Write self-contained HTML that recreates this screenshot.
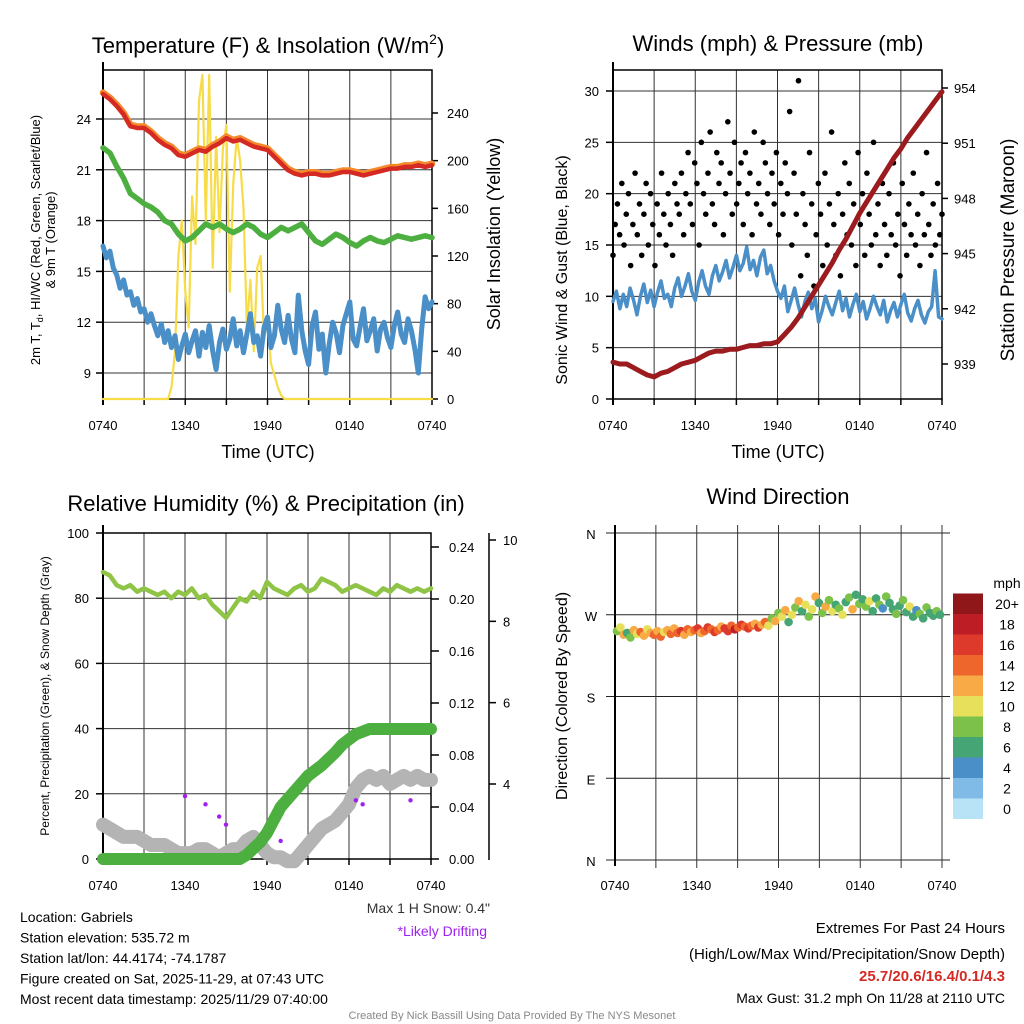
<!DOCTYPE html>
<html><head><meta charset="utf-8"><style>
body{margin:0;background:#fff;}
svg{display:block;font-family:"Liberation Sans",sans-serif;}
</style></head><body>
<svg id="c" width="1024" height="1024" viewBox="0 0 1024 1024" xmlns="http://www.w3.org/2000/svg"></svg>
<script>
// ---------- DATA ----------
const xTickLabels = ["0740","1340","1940","0140","0740"];
const tempRed = [25.5,25.2,24.8,24.3,23.6,23.5,23.5,23.2,22.8,22.5,22.3,21.9,21.8,22.0,22.2,22.1,22.4,22.6,22.9,22.7,22.8,22.6,22.4,22.3,22.2,21.8,21.4,21.0,20.8,20.7,20.8,20.8,20.7,20.7,20.8,20.9,20.9,20.8,20.7,20.8,20.9,21.0,21.1,21.1,21.2,21.2,21.3,21.2,21.3];
const dewGreen = [22.3,22.0,21.2,20.5,19.6,19.3,19.0,18.8,18.5,18.0,17.8,17.2,16.8,17.0,17.4,17.8,17.6,17.8,17.5,17.3,17.5,17.8,17.6,17.2,17.0,17.3,17.6,17.4,17.6,17.8,17.3,16.8,16.6,16.9,17.2,17.0,16.7,16.5,16.8,17.0,16.8,16.7,16.9,17.1,17.0,16.9,17.0,17.1,17.0];
const windChill = [16.5,15.8,16.2,15.2,14.8,14.0,14.5,13.6,13.8,13.0,13.4,12.6,12.8,12.0,12.5,11.8,11.2,11.9,10.8,11.5,10.5,11.2,9.8,10.6,11.3,10.2,10.9,11.5,10.0,11.4,10.5,11.8,10.3,9.2,10.8,11.6,10.4,11.0,12.2,10.6,11.5,10.2,11.3,12.5,10.8,11.2,10.0,11.7,12.3,10.5,11.2,13.0,11.6,10.8,12.4,11.0,10.2,13.6,11.5,10.3,9.5,11.8,12.6,10.4,11.3,9.0,10.7,12.0,11.4,10.2,11.8,12.5,13.2,11.0,10.6,11.7,12.8,10.9,11.5,12.2,10.3,11.6,12.0,11.1,10.5,11.8,12.6,11.3,10.8,12.2,11.5,10.4,9.0,11.6,13.5,12.8,13.2];
const solar = [0,0,0,0,0,0,0,0,0,0,0,0,0,0,0,0,0,0,0,0,10,40,120,150,90,60,170,130,250,272,150,272,110,220,140,210,230,90,180,220,200,160,60,100,40,110,120,50,70,30,20,10,3,0,0,0,0,0,0,0,0,0,0,0,0,0,0,0,0,0,0,0,0,0,0,0,0,0,0,0,0,0,0,0,0,0,0,0,0,0,0,0,0,0,0,0,0];
const windSpeed = [9.5,10.5,8.8,10.2,9.0,10.8,9.6,8.2,10.0,11.2,9.4,10.6,9.0,10.4,11.5,9.8,10.2,9.0,10.8,11.8,10.0,11.0,12.2,10.5,9.6,11.4,12.5,11.0,10.2,12.0,13.0,11.5,12.4,13.5,11.8,12.8,14.0,12.5,13.2,14.8,12.6,13.5,12.0,13.8,14.5,12.2,13.0,11.5,10.5,9.8,11.0,8.5,9.6,10.8,9.2,8.0,9.5,10.4,8.8,9.8,7.5,8.6,10.0,9.0,8.2,9.4,10.5,8.6,9.8,8.0,9.2,10.2,8.5,9.5,7.8,8.8,10.0,9.0,8.2,9.6,7.5,8.6,9.4,8.0,9.2,10.2,8.4,7.6,8.8,9.6,8.2,7.4,8.5,9.0,12.5,8.0,7.8];
const gusts = [14,17,19,16,21,15,18,20,13,17,22,16,19,14,18,21,15,20,17,13,19,16,22,18,15,20,17,14,21,19,
18,22,16,20,24,19,17,23,21,15,25,20,18,22,26,19,17,24,21,23,16,20,27,22,18,25,19,21,23,17,24,20,22,16,26,19,21,18,25,23,20,17,22,19,24,16,21,18,23,20,
28,15,22,18,31,12,20,17,14,24,19,11,16,21,18,13,22,15,19,26,17,14,20,12,18,23,16,21,15,19,13,24,17,20,14,22,18,15,25,16,19,13,21,17,14,20,16,23,15,18,12,21,17,14,19,16,22,15,18,13,20,16,24,17,14,19,15,21,16,18];
const pressure = [939.1,939.0,939.0,938.8,938.6,938.4,938.3,938.5,938.6,938.8,939.0,939.1,939.2,939.4,939.6,939.7,939.7,939.8,939.8,939.9,940.0,940.0,940.1,940.1,940.2,940.6,941.0,941.5,942.1,942.7,943.3,943.9,944.5,945.2,945.8,946.5,947.2,947.8,948.4,949.0,949.6,950.2,950.7,951.3,951.8,952.3,952.8,953.3,953.8];
const rh = [88,87,84,83,84,82,83,82,81,82,80,82,81,83,80,81,78,76,74,77,80,79,82,80,85,83,82,81,83,84,82,83,86,85,84,82,83,84,83,82,81,83,82,84,83,82,83,82,83];
const precip = [0,0,0,0,0,0,0,0,0,0,0,0,0,0,0,0,0,0,0,0,0,0.003,0.008,0.013,0.02,0.03,0.04,0.046,0.052,0.058,0.064,0.068,0.072,0.077,0.082,0.088,0.092,0.096,0.098,0.1,0.1,0.1,0.1,0.1,0.1,0.1,0.1,0.1,0.1];
const snowDepth = [3.0,2.9,2.8,2.7,2.7,2.7,2.6,2.5,2.5,2.5,2.4,2.3,2.3,2.3,2.4,2.4,2.3,2.2,2.3,2.4,2.4,2.6,2.7,2.5,2.3,2.2,2.2,2.1,2.1,2.3,2.5,2.7,2.9,3.0,3.1,3.3,3.5,3.9,4.1,4.2,4.1,4.2,4.0,4.1,4.2,4.1,4.2,4.1,4.1];
const driftIdx = [12,15,17,18,26,37,38,45];
const driftVal = [3.7,3.5,3.2,3.0,2.6,3.6,3.5,3.6];
const windDir = [252,256,248,250,245,253,249,251,247,254,250,248,252,246,251,253,249,255,250,252,248,254,251,253,255,250,252,256,254,251,253,257,255,252,258,254,256,259,257,255,258,260,256,259,262,258,266,263,272,268,275,262,270,278,285,274,281,268,276,290,283,272,279,286,274,281,277,270,284,289,276,292,282,287,279,285,274,288,281,277,290,283,276,271,280,286,273,279,268,275,271,266,278,272,269,274,270];
const dirSpeed = [8,10,12,7,9,13,11,14,12,10,13,15,12,14,11,13,15,12,14,16,13,15,12,14,16,13,15,17,14,16,15,13,17,16,14,18,15,16,14,17,15,12,16,13,15,11,9,12,8,10,13,7,11,9,12,6,10,8,11,13,7,9,12,8,10,6,9,11,7,8,12,6,9,7,8,10,6,7,9,5,8,7,6,9,7,8,6,10,7,5,8,6,9,7,6,8,7];
const cbLabels = ["0","2","4","6","8","10","12","14","16","18","20+"];
const cbColors = ["#b8e3f7","#7fbbe6","#4a8fc7","#46a574","#7cc24a","#e6e05a","#f7aa45","#ef662d","#dd3a2b","#bd1e26","#8f1619"];

// ---------- DRAW ----------
const S = document.getElementById('c');
const NS = "http://www.w3.org/2000/svg";
function mk(tag, a, parent){const e=document.createElementNS(NS,tag);for(const k in a)e.setAttribute(k,a[k]);(parent||S).appendChild(e);return e;}
function txt(x,y,s,a,name){const e=mk('text',Object.assign({x:x,y:y},a||{}));e.textContent=s;


return e;}
function lin(x1,y1,x2,y2,st,w){const e=mk('line',{x1,y1,x2,y2,stroke:st||'#000','stroke-width':w||1});


return e;}
function linmap(d0,d1,p0,p1){return v=>p0+(v-d0)/(d1-d0)*(p1-p0);}
function path(vals, xf, yf, st, w, name, extra){
 let d=''; vals.forEach((v,i)=>{d+=(i?'L':'M')+xf(i,vals.length).toFixed(1)+' '+yf(v).toFixed(1);});
 const e=mk('path',Object.assign({d,fill:'none',stroke:st,'stroke-width':w,'stroke-linejoin':'round','stroke-linecap':'round'},extra||{}));
 
 
 return e;}
function panelFrame(L,R,T,B,name,box){
 for(let k=1;k<8;k++){const x=L+(R-L)*k/8;lin(x,T,x,B,'#333',1);}
 if(box){const r=mk('rect',{x:L,y:T,width:R-L,height:B-T,fill:'none',stroke:'#000','stroke-width':1.5});
 
 }
 lin(L,T-8,L,B+6,'#000',2);
 xTickLabels.forEach((s,i)=>{const x=L+(R-L)*i/4;txt(x,B+31,s,{'font-size':13,'text-anchor':'middle'},'x-tick-label');lin(x,B,x,B+6,'#000',1.5);});
 for(let k=1;k<8;k+=2){const x=L+(R-L)*k/8;lin(x,B,x,B+6,'#000',1.5);}
}
const tX=(L,R)=>(i,n)=>L+(R-L)*i/(n-1);

// Panel 1
{const L=103,R=432,T=70,B=399;
 const tt=txt(268,53,"Temperature (F) & Insolation (W/m",{'font-size':22,'text-anchor':'middle'},'temp-title');
 const sp=mk('tspan',{'font-size':14,dy:-9},tt);sp.textContent='2';
 const sp2=mk('tspan',{dy:9},tt);sp2.textContent=')';
 const yL=linmap(24,9,119,373), yR=linmap(0,240,399,113);
 [24,21,18,15,12,9].forEach(v=>{lin(L,yL(v),R,yL(v),'#333',1);lin(L-7,yL(v),L,yL(v),'#000',1.5);txt(L-12,yL(v)+5,String(v),{'font-size':13,'text-anchor':'end'},'y-tick-label');});
 [0,40,80,120,160,200,240].forEach(v=>{lin(R,yR(v),R+6,yR(v),'#000',1.5);txt(R+15,yR(v)+5,String(v),{'font-size':13},'y2-tick-label');});
 panelFrame(L,R,T,B,'temp-panel',true);
 path(solar,tX(L,R),yR,'#f7dc4a',2.2,'solar-line');
 path(windChill,tX(L,R),yL,'#4a8fc7',5,'windchill-line');
 path(dewGreen,tX(L,R),yL,'#4caf3f',5.5,'dewpoint-line');
 path(tempRed,tX(L,R),v=>yL(v)-1,'#f58a2a',6.5,'temp9m-line');
 path(tempRed,tX(L,R),v=>yL(v)+0.5,'#d42a23',4.5,'temp-line');
 const t1=txt(0,0,"2m T, T",{'font-size':13,'text-anchor':'middle',transform:'translate(40,240) rotate(-90)'},'temp-y-title');
 const ts=mk('tspan',{'font-size':9,dy:3},t1);ts.textContent='d';
 const ts2=mk('tspan',{dy:-3},t1);ts2.textContent=', HI/WC (Red, Green, Scarlet/Blue)';
 txt(0,0,"& 9m T (Orange)",{'font-size':13,'text-anchor':'middle',transform:'translate(55,240) rotate(-90)'},'temp-y-title-2');
 txt(0,0,"Solar Insolation (Yellow)",{'font-size':18,'text-anchor':'middle',transform:'translate(500,234) rotate(-90)'},'solar-y-title');
 txt(268,458,"Time (UTC)",{'font-size':18,'text-anchor':'middle'},'x-axis-title');
}
// Panel 2
{const L=613,R=942,T=70,B=399;
 txt(778,51,"Winds (mph) & Pressure (mb)",{'font-size':22,'text-anchor':'middle'},'winds-title');
 const yL=linmap(0,30,399,91), yR=linmap(939,954,364,88);
 [0,5,10,15,20,25,30].forEach(v=>{lin(L,yL(v),R,yL(v),'#333',1);lin(L-7,yL(v),L,yL(v),'#000',1.5);txt(L-14,yL(v)+5,String(v),{'font-size':13,'text-anchor':'end'},'y-tick-label');});
 [939,942,945,948,951,954].forEach(v=>{lin(R,yR(v),R+6,yR(v),'#000',1.5);txt(R+12,yR(v)+5,String(v),{'font-size':13},'y2-tick-label');});
 panelFrame(L,R,T,B,'winds-panel',true);
 path(windSpeed,tX(L,R),yL,'#4a8fc7',3.5,'wind-line');
 gusts.forEach((g,i)=>{const c=mk('circle',{cx:tX(L,R)(i,gusts.length),cy:yL(g),r:2.8,fill:'#000'});
 
 });
 path(pressure,tX(L,R),yR,'#9b1b1e',5,'pressure-line');
 txt(0,0,"Sonic Wind & Gust (Blue, Black)",{'font-size':16,'text-anchor':'middle',transform:'translate(567,270) rotate(-90)'},'wind-y-title');
 txt(0,0,"Station Pressure (Maroon)",{'font-size':19,'text-anchor':'middle',transform:'translate(1014,250) rotate(-90)'},'pressure-y-title');
 txt(778,458,"Time (UTC)",{'font-size':18,'text-anchor':'middle'},'x-axis-title');
}
// Panel 3
{const L=103,R=431,T=533,B=859;
 txt(266,511,"Relative Humidity (%) & Precipitation (in)",{'font-size':22,'text-anchor':'middle'},'rh-title');
 const yL=linmap(0,100,B,T), yP=linmap(0,0.24,859,547), yS=linmap(4,10,784,540);
 [0,20,40,60,80,100].forEach(v=>{lin(L,yL(v),R,yL(v),'#333',1);lin(L-7,yL(v),L,yL(v),'#000',1.5);txt(L-14,yL(v)+5,String(v),{'font-size':13,'text-anchor':'end'},'y-tick-label');});
 [0,0.04,0.08,0.12,0.16,0.2,0.24].forEach(v=>{lin(R,yP(v),R+8,yP(v),'#000',1.5);txt(R+18,yP(v)+5,v.toFixed(2),{'font-size':13},'precip-tick-label');});
 lin(489,533,489,860,'#000',1.5);
 [4,6,8,10].forEach(v=>{lin(489,yS(v),496,yS(v),'#000',1.5);txt(503,yS(v)+5,String(v),{'font-size':13},'snow-tick-label');});
 panelFrame(L,R,T,B,'rh-panel',true);
 path(snowDepth,tX(L,R),yS,'#b4b4b4',14,'snow-depth-line');
 driftIdx.forEach((k,i)=>{const c=mk('circle',{cx:tX(L,R)(k,snowDepth.length),cy:yS(driftVal[i]),r:2.2,fill:'#a020f0'});
 
 });
 path(precip,tX(L,R),yP,'#4caf3f',12,'precip-line');
 path(rh,tX(L,R),yL,'#8fc446',4.5,'rh-line');
 txt(0,0,"Percent, Precipitation (Green), & Snow Depth (Gray)",{'font-size':12,'text-anchor':'middle',transform:'translate(49,696) rotate(-90)'},'rh-y-title');
}
// Panel 4
{const L=615,R=942,T=533,B=860;
 txt(778,504,"Wind Direction",{'font-size':22,'text-anchor':'middle'},'dir-title');
 const yD=linmap(0,360,B,T);
 [["N",360],["W",270],["S",180],["E",90],["N",0]].forEach(([s,v])=>{lin(606,yD(v),950,yD(v),'#222',1);txt(591,yD(v)+6,s,{'font-size':13,'text-anchor':'middle'},'dir-tick-label');});
 for(let k=1;k<=8;k++){const x=L+(R-L)*k/8;lin(x,T-8,x,B+8,'#333',1);}
 lin(L,T-8,L,B+6,'#000',2);
 xTickLabels.forEach((s,i)=>{const x=L+(R-L)*i/4;txt(x,B+30,s,{'font-size':13,'text-anchor':'middle'},'x-tick-label');});
 windDir.forEach((d,i)=>{const bin=Math.min(10,Math.floor(dirSpeed[i]/2));
 const c=mk('circle',{cx:tX(L+2,R-2)(i,windDir.length),cy:yD(d),r:4.3,fill:cbColors[bin]});
 
 });
 txt(0,0,"Direction (Colored By Speed)",{'font-size':16,'text-anchor':'middle',transform:'translate(567,696) rotate(-90)'},'dir-y-title');
 txt(1007,588,"mph",{'font-size':14,'text-anchor':'middle'},'colorbar-title');
 const h=20.5;
 cbColors.forEach((c,i)=>{const y=819-(i+1)*h;const r=mk('rect',{x:953,y:y,width:30,height:h,fill:c});
 
 
 txt(1007,y+h/2+5,cbLabels[i],{'font-size':14,'text-anchor':'middle'},'colorbar-label');});
}
// Footer text
const info=["Location: Gabriels","Station elevation: 535.72 m","Station lat/lon: 44.4174; -74.1787","Figure created on Sat, 2025-11-29, at 07:43 UTC","Most recent data timestamp: 2025/11/29 07:40:00"];
info.forEach((s,i)=>txt(20,922+i*20.5,s,{'font-size':14},'station-info'));
txt(490,913,'Max 1 H Snow: 0.4"',{'font-size':14,'text-anchor':'end',fill:'#333'},'max-snow');
txt(487,936,'*Likely Drifting',{'font-size':14,'text-anchor':'end',fill:'#a020f0'},'drifting-note');
txt(1005,933,"Extremes For Past 24 Hours",{'font-size':15,'text-anchor':'end'},'extremes-title');
txt(1005,959,"(High/Low/Max Wind/Precipitation/Snow Depth)",{'font-size':15,'text-anchor':'end'},'extremes-subtitle');
txt(1005,981,"25.7/20.6/16.4/0.1/4.3",{'font-size':15,'text-anchor':'end',fill:'#d42a23','font-weight':'bold'},'extremes-values');
txt(1005,1003,"Max Gust: 31.2 mph On 11/28 at 2110 UTC",{'font-size':14,'text-anchor':'end'},'max-gust');
txt(512,1019,"Created By Nick Bassill Using Data Provided By The NYS Mesonet",{'font-size':11,'text-anchor':'middle',fill:'#888'},'credit');
</script>
</body></html>
